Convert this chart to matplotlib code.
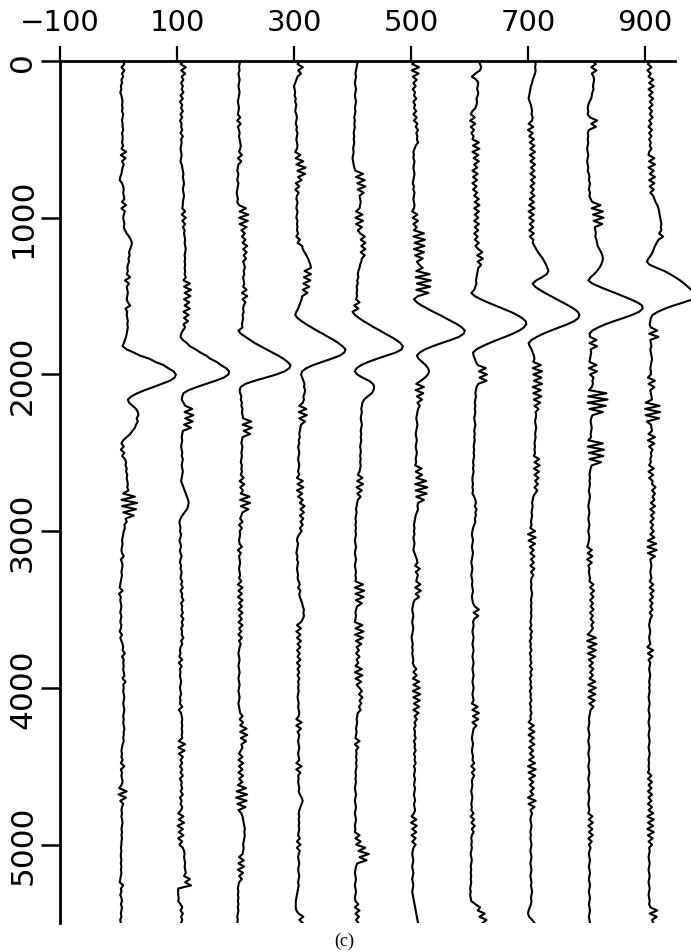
import numpy as np
import matplotlib
matplotlib.use("Agg")
import matplotlib.pyplot as plt

# ---------------- data ----------------
time_step_ms = 20
trace_offsets = [0, 100, 200, 300, 400, 500, 600, 700, 800, 900]
x_ticks = [-100, 100, 300, 500, 700, 900]
y_ticks = [0, 1000, 2000, 3000, 4000, 5000]
caption = "(c)"

trace_0 = [
    7,10,5,10,6,8,5,6,4,5,3,5,6,7,6,7,6,8,7,6,7,7,8,6,7,
    7,6,8,5,13,4,12,6,9,7,6,5,3,2,6,8,9,8,9,10,6,13,5,11,9,
    8,9,10,9,11,14,18,21,23,22,20,18,19,17,18,16,15,16,14,20,11,18,14,15,16,
    15,14,16,20,12,15,14,15,16,15,16,15,14,13,11,9,7,14,26,37,53,63,77,85,94,
    98,96,88,74,60,45,32,22,16,18,24,30,33,34,31,33,30,28,24,20,14,8,5,9,4,
    10,6,11,13,12,14,13,15,14,15,16,15,17,8,28,5,32,6,30,8,26,12,14,10,11,
    9,8,7,6,7,6,5,6,9,4,6,7,6,5,6,5,4,3,2,7,1,4,3,4,5,
    4,3,5,4,3,5,4,2,6,3,5,7,8,7,11,6,9,8,9,8,9,10,7,12,8,
    9,8,9,10,9,8,9,10,9,8,9,8,9,10,9,9,8,9,7,6,5,6,5,7,4,
    10,4,6,5,6,7,5,1,14,0,13,3,8,6,5,6,5,6,7,6,5,6,5,6,5,
    5,4,5,4,4,5,4,5,4,5,4,3,2,8,4,5,3,5,6,4,6,5,4,5,3,
    4]

trace_1 = [
    12,6,15,7,14,8,11,7,10,8,11,6,10,5,9,7,10,6,9,5,8,7,9,6,10,
    7,8,7,6,7,8,7,6,8,9,10,11,10,11,12,11,10,11,12,11,10,10,9,14,8,
    15,9,14,10,13,12,13,14,13,14,15,14,13,14,13,14,13,14,13,15,11,22,12,24,13,
    23,12,21,13,22,11,20,12,19,11,14,10,7,6,10,17,22,32,40,50,57,68,75,84,89,
    88,80,66,50,34,20,11,9,8,11,14,26,13,28,14,27,12,24,10,9,8,9,8,7,8,
    9,8,10,9,8,9,10,9,8,7,9,11,13,15,17,19,20,19,17,13,9,6,4,5,6,
    5,7,6,4,6,7,5,6,8,6,5,7,6,8,7,6,9,7,10,6,9,8,11,7,9,
    8,10,7,11,8,10,7,9,8,11,7,9,6,5,6,4,9,3,8,5,6,5,6,7,6,
    5,6,7,5,6,5,9,3,7,8,9,8,9,8,9,8,9,3,14,2,13,3,10,6,9,
    5,9,6,10,5,8,7,9,6,10,5,8,6,9,7,2,11,3,12,1,10,3,11,2,9,
    4,10,12,13,12,13,14,13,14,15,12,22,14,24,2,2,2,3,2,6,9,6,10,7,9,
    7]

trace_2 = [
    8,7,6,7,5,6,7,6,5,6,7,6,5,4,5,6,5,4,8,3,9,4,6,7,6,
    7,8,9,8,6,11,4,10,5,4,3,5,4,3,5,4,3,2,3,4,3,6,18,7,22,
    6,21,7,19,10,16,11,17,12,20,13,19,14,18,13,15,16,14,15,13,14,15,13,19,11,
    20,12,17,14,13,14,12,13,12,11,12,5,9,17,25,33,43,53,63,73,82,89,94,92,84,
    70,52,33,17,9,7,8,10,9,11,10,12,11,12,13,27,12,28,14,25,12,11,10,12,11,
    10,11,10,9,11,10,11,9,14,7,15,8,13,9,24,8,25,9,22,12,10,8,12,6,11,
    7,8,7,6,7,11,4,9,6,7,8,7,6,7,8,6,10,4,12,5,11,4,12,6,11,
    5,12,6,11,5,12,6,10,5,11,6,9,7,6,5,6,7,6,5,6,7,6,5,6,7,
    6,5,6,7,6,5,6,7,8,12,7,13,8,19,8,20,9,18,10,12,9,6,12,5,13,
    6,12,5,13,6,12,4,18,2,20,1,19,3,17,5,10,12,13,14,15,16,15,16,15,14,
    13,14,13,12,6,14,5,15,4,13,6,11,6,5,4,5,4,5,4,5,4,5,4,3,4,
    3]

trace_3 = [
    10,6,15,7,12,6,4,2,0,1,2,1,3,2,4,3,2,4,5,4,3,5,4,6,5,
    4,5,6,5,2,11,3,16,4,20,6,19,7,13,3,9,2,8,5,4,6,5,4,6,5,
    4,6,5,6,5,7,4,10,6,14,15,18,21,24,26,28,29,18,29,17,28,16,26,15,23,
    14,13,11,9,7,4,2,6,13,21,30,39,49,58,68,76,83,88,86,78,64,48,33,21,14,
    12,14,16,18,17,19,18,16,17,15,9,21,8,22,9,19,12,11,10,9,10,8,9,7,8,
    9,8,7,8,9,8,7,9,5,15,6,16,5,14,7,15,10,18,11,17,10,16,11,15,10,
    13,9,6,5,7,6,5,4,6,5,7,6,5,6,7,6,8,10,7,11,9,10,12,14,15,
    17,16,17,15,12,5,12,4,11,5,12,6,11,5,10,6,11,5,10,6,9,6,9,7,8,
    7,8,7,6,7,8,7,8,9,8,4,13,4,12,6,9,8,7,8,9,8,7,8,9,4,
    13,4,11,7,8,7,8,9,8,10,13,15,13,11,9,8,9,8,9,8,9,8,7,10,5,
    11,5,10,8,7,8,9,8,7,8,9,8,7,8,7,6,5,4,3,3,3,4,8,16,9,
    15]

trace_4 = [
    9,8,7,6,5,6,5,4,5,6,5,4,5,6,5,4,5,4,3,4,3,4,3,2,3,
    2,3,2,1,2,1,0,1,2,3,5,18,6,21,8,22,9,19,12,13,14,13,12,6,17,
    5,18,6,16,9,13,21,14,22,15,22,14,21,16,15,13,12,10,9,10,8,9,7,8,7,
    8,6,12,3,10,0,4,11,19,28,37,47,56,66,75,82,86,84,74,58,42,27,15,7,4,
    8,17,28,35,37,36,33,26,20,17,16,15,16,15,14,15,16,15,14,15,14,15,14,13,14,
    14,13,14,13,14,13,12,9,17,8,18,7,16,8,14,9,8,7,6,7,6,5,6,5,6,
    5,6,5,4,5,6,5,4,5,6,5,4,5,6,5,6,5,18,4,20,5,19,6,16,8,
    6,5,6,5,4,17,5,19,4,18,6,15,7,11,6,12,7,10,5,16,4,17,5,15,7,
    12,16,11,17,12,15,11,14,9,8,7,8,7,6,7,6,5,12,4,10,6,7,6,7,6,
    7,6,5,6,5,6,5,4,5,6,5,4,5,6,5,4,5,6,5,4,5,4,12,5,14,
    6,22,10,28,12,24,8,6,5,4,5,6,5,4,5,6,5,4,5,10,4,12,5,11,6,
    10]

trace_5 = [
    8,2,14,1,13,3,10,4,8,3,7,5,9,4,7,5,9,4,10,5,11,8,12,9,11,
    10,12,8,6,4,5,4,6,5,4,5,6,5,4,3,5,4,6,5,4,5,6,5,2,11,
    3,12,4,10,5,22,4,24,6,23,5,22,7,20,10,14,20,9,32,8,34,10,33,9,30,
    12,5,10,18,28,38,49,59,69,79,87,92,90,82,68,52,37,24,15,10,13,19,25,29,31,
    29,24,17,9,22,8,21,10,19,11,15,12,11,10,9,10,11,10,9,8,9,10,9,8,9,
    10,9,8,9,7,18,8,19,9,26,7,28,8,27,9,22,12,11,12,10,8,7,6,5,6,
    5,6,4,5,6,5,4,6,8,10,11,7,15,8,12,10,9,16,7,17,8,14,6,4,3,
    2,3,4,3,2,3,4,3,2,1,2,3,2,3,2,3,4,3,5,9,4,10,3,14,4,
    15,3,16,4,15,5,14,4,13,6,10,6,8,5,7,6,8,5,7,6,8,5,7,6,8,
    5,7,6,5,7,6,5,7,6,5,6,7,5,6,7,5,1,9,0,10,2,9,1,8,2,
    8,4,3,2,3,4,3,2,3,4,3,2,3,4,3,2,3,4,5,6,7,8,9,10,11,
    12]

trace_6 = [
    15,18,20,18,10,4,12,15,14,13,15,14,12,13,12,10,5,2,9,1,10,2,8,3,7,
    5,16,6,17,5,15,7,16,8,13,5,14,6,13,5,12,6,13,8,16,9,17,8,16,9,
    15,8,16,9,15,8,14,9,16,10,15,22,13,23,14,20,15,14,13,12,11,12,10,8,3,
    9,19,31,44,57,70,81,90,96,97,93,85,74,61,47,34,22,12,6,7,9,11,14,28,16,
    30,17,29,15,12,11,10,11,10,9,10,9,10,9,8,9,10,9,8,9,8,9,8,7,8,
    7,8,7,6,7,6,7,6,5,5,6,5,6,5,8,10,11,9,12,10,11,9,10,8,6,
    5,4,5,6,5,4,5,6,5,4,3,4,5,4,3,4,5,4,5,6,5,4,5,6,9,
    16,7,15,8,6,7,6,5,6,7,6,5,6,7,6,5,6,7,6,5,6,7,6,5,6,
    7,6,5,6,7,4,14,5,16,6,15,5,12,7,6,5,4,5,6,5,4,5,6,5,8,
    3,9,4,8,5,4,5,4,3,4,5,4,3,4,3,7,2,8,3,9,4,7,4,3,4,
    3,4,3,2,3,4,3,2,3,2,3,2,3,2,1,2,1,2,3,10,18,14,26,17,29,
    22]

trace_7 = [
    12,13,12,13,12,10,8,7,5,4,3,2,1,3,5,6,7,6,8,7,1,9,0,8,2,
    10,3,11,4,12,3,11,4,12,5,11,4,12,5,11,4,10,5,11,3,10,2,11,1,10,
    2,10,3,9,2,10,3,9,8,11,14,17,21,25,28,31,33,35,32,24,14,8,12,20,29,
    39,49,59,69,78,85,88,86,79,67,53,39,26,15,6,1,3,6,8,10,11,9,22,8,24,
    9,23,10,24,8,22,9,23,10,21,11,18,13,14,13,12,13,14,13,12,13,12,11,12,11,
    12,10,19,11,20,10,19,11,18,12,17,11,16,12,9,8,7,8,7,6,7,6,5,6,4,
    12,0,13,1,12,3,10,4,11,5,10,4,11,5,9,6,5,6,5,6,7,6,5,6,5,
    6,5,6,5,4,6,3,7,4,6,3,5,4,6,3,5,4,6,3,7,4,6,3,5,4,
    6,3,5,4,6,3,5,4,6,4,5,1,10,2,11,1,10,3,11,2,9,3,10,2,12,
    0,13,1,12,2,9,3,10,4,9,0,13,1,11,4,7,5,4,5,6,5,4,5,4,5,
    6,5,4,5,6,5,4,5,6,5,4,5,6,5,6,7,6,5,6,5,3,1,0,2,7,
    11]

trace_8 = [
    10,16,8,17,9,12,13,12,11,12,10,9,8,5,3,2,3,2,6,18,8,16,4,2,3,
    2,3,2,1,2,3,2,1,2,3,2,4,5,4,6,5,4,6,5,7,10,24,9,28,11,
    29,12,27,14,15,16,15,17,18,19,22,25,27,28,27,25,22,18,13,7,3,10,22,35,49,
    62,75,87,95,96,90,78,63,47,32,20,10,5,6,17,5,18,7,8,7,6,5,17,4,18,
    6,12,10,11,9,4,34,3,36,2,33,5,28,10,8,7,8,9,8,7,8,3,28,2,30,
    4,29,5,25,9,7,6,5,6,5,6,5,4,5,6,5,4,3,4,5,4,3,4,5,4,
    3,4,5,4,3,1,9,2,10,1,9,3,5,4,5,6,5,12,6,13,7,12,6,11,7,
    12,6,11,7,12,8,11,7,2,16,1,17,3,16,2,15,4,11,5,12,6,11,5,15,3,
    16,4,15,3,14,5,12,7,6,5,4,5,4,3,4,5,4,3,4,5,4,3,4,5,4,
    3,4,5,4,3,4,5,4,3,4,5,4,3,4,5,3,10,4,11,3,10,4,11,3,9,
    4,7,5,4,5,6,5,4,5,6,5,4,5,6,5,4,5,6,5,4,5,6,5,4,5,
    6]

trace_9 = [
    9,5,11,4,10,6,14,7,15,6,13,7,14,8,13,7,12,8,13,7,11,6,12,7,11,
    7,10,8,11,7,6,16,7,17,6,15,8,17,7,16,8,15,9,14,16,18,21,23,24,25,
    26,27,28,27,28,24,31,23,20,17,15,13,10,6,3,8,20,33,43,52,60,67,73,79,85,
    88,82,66,49,34,22,13,10,9,8,10,21,7,23,9,10,11,9,10,11,12,11,10,9,10,
    10,5,17,6,16,9,10,11,12,1,25,0,26,1,24,3,10,11,12,6,17,5,16,7,13,
    10,11,9,10,7,15,6,14,7,13,12,18,12,17,13,16,10,17,9,16,10,15,9,14,10,
    15,9,16,5,19,4,20,5,17,9,10,11,10,9,10,11,8,14,8,15,9,14,8,13,9,
    13,8,12,9,8,7,8,9,8,7,8,9,4,14,5,13,6,9,8,7,8,9,8,7,8,
    7,8,7,6,7,8,7,6,7,8,7,6,7,8,7,6,7,8,7,6,7,8,7,6,7,
    6,7,5,11,5,12,6,11,5,12,6,11,5,12,6,14,4,15,5,14,4,15,5,13,6,
    12,7,8,7,6,7,8,7,6,7,8,7,6,7,8,7,6,7,8,7,9,21,8,20,12,
    14]

traces = [trace_0, trace_1, trace_2, trace_3, trace_4,
          trace_5, trace_6, trace_7, trace_8, trace_9]

# ---------------- figure ----------------
W, H = 691, 953
fig = plt.figure(figsize=(W / 100, H / 100), dpi=100)
left_px, top_px, bottom_px = 60, 62, 924
ax = fig.add_axes([left_px / W, 1 - bottom_px / H,
                   1 - left_px / W, (bottom_px - top_px) / H])

for off, tr in zip(trace_offsets, traces):
    vals = np.asarray(tr, dtype=float)
    t = np.arange(len(vals)) * time_step_ms
    ax.plot(off + vals, t, color="black", lw=1.5, solid_joinstyle="round")

ax.set_xlim(-100, 978.6)
ax.set_ylim(5500, 0)

for s in ("right", "bottom"):
    ax.spines[s].set_visible(False)
ax.spines["top"].set_linewidth(2.0)
ax.spines["left"].set_linewidth(2.0)
ax.spines["top"].set_bounds(-100, 951)
ax.spines["left"].set_bounds(0, 5500)

ax.xaxis.tick_top()
ax.set_xticks(x_ticks)
ax.set_yticks(y_ticks)
ax.tick_params(axis="x", direction="out", length=11, width=1.6, pad=7,
               labelsize=21, top=True, bottom=False)
ax.tick_params(axis="y", direction="out", length=13.5, width=1.8, pad=3,
               labelsize=22.5, labelrotation=90)
for lab in ax.get_yticklabels():
    lab.set_va("center")

fig.text(344 / W, 1 - 941 / H, caption, ha="center", va="center",
         family=["Liberation Serif", "DejaVu Serif"], fontsize=13)

fig.savefig("out.png", dpi=100)
